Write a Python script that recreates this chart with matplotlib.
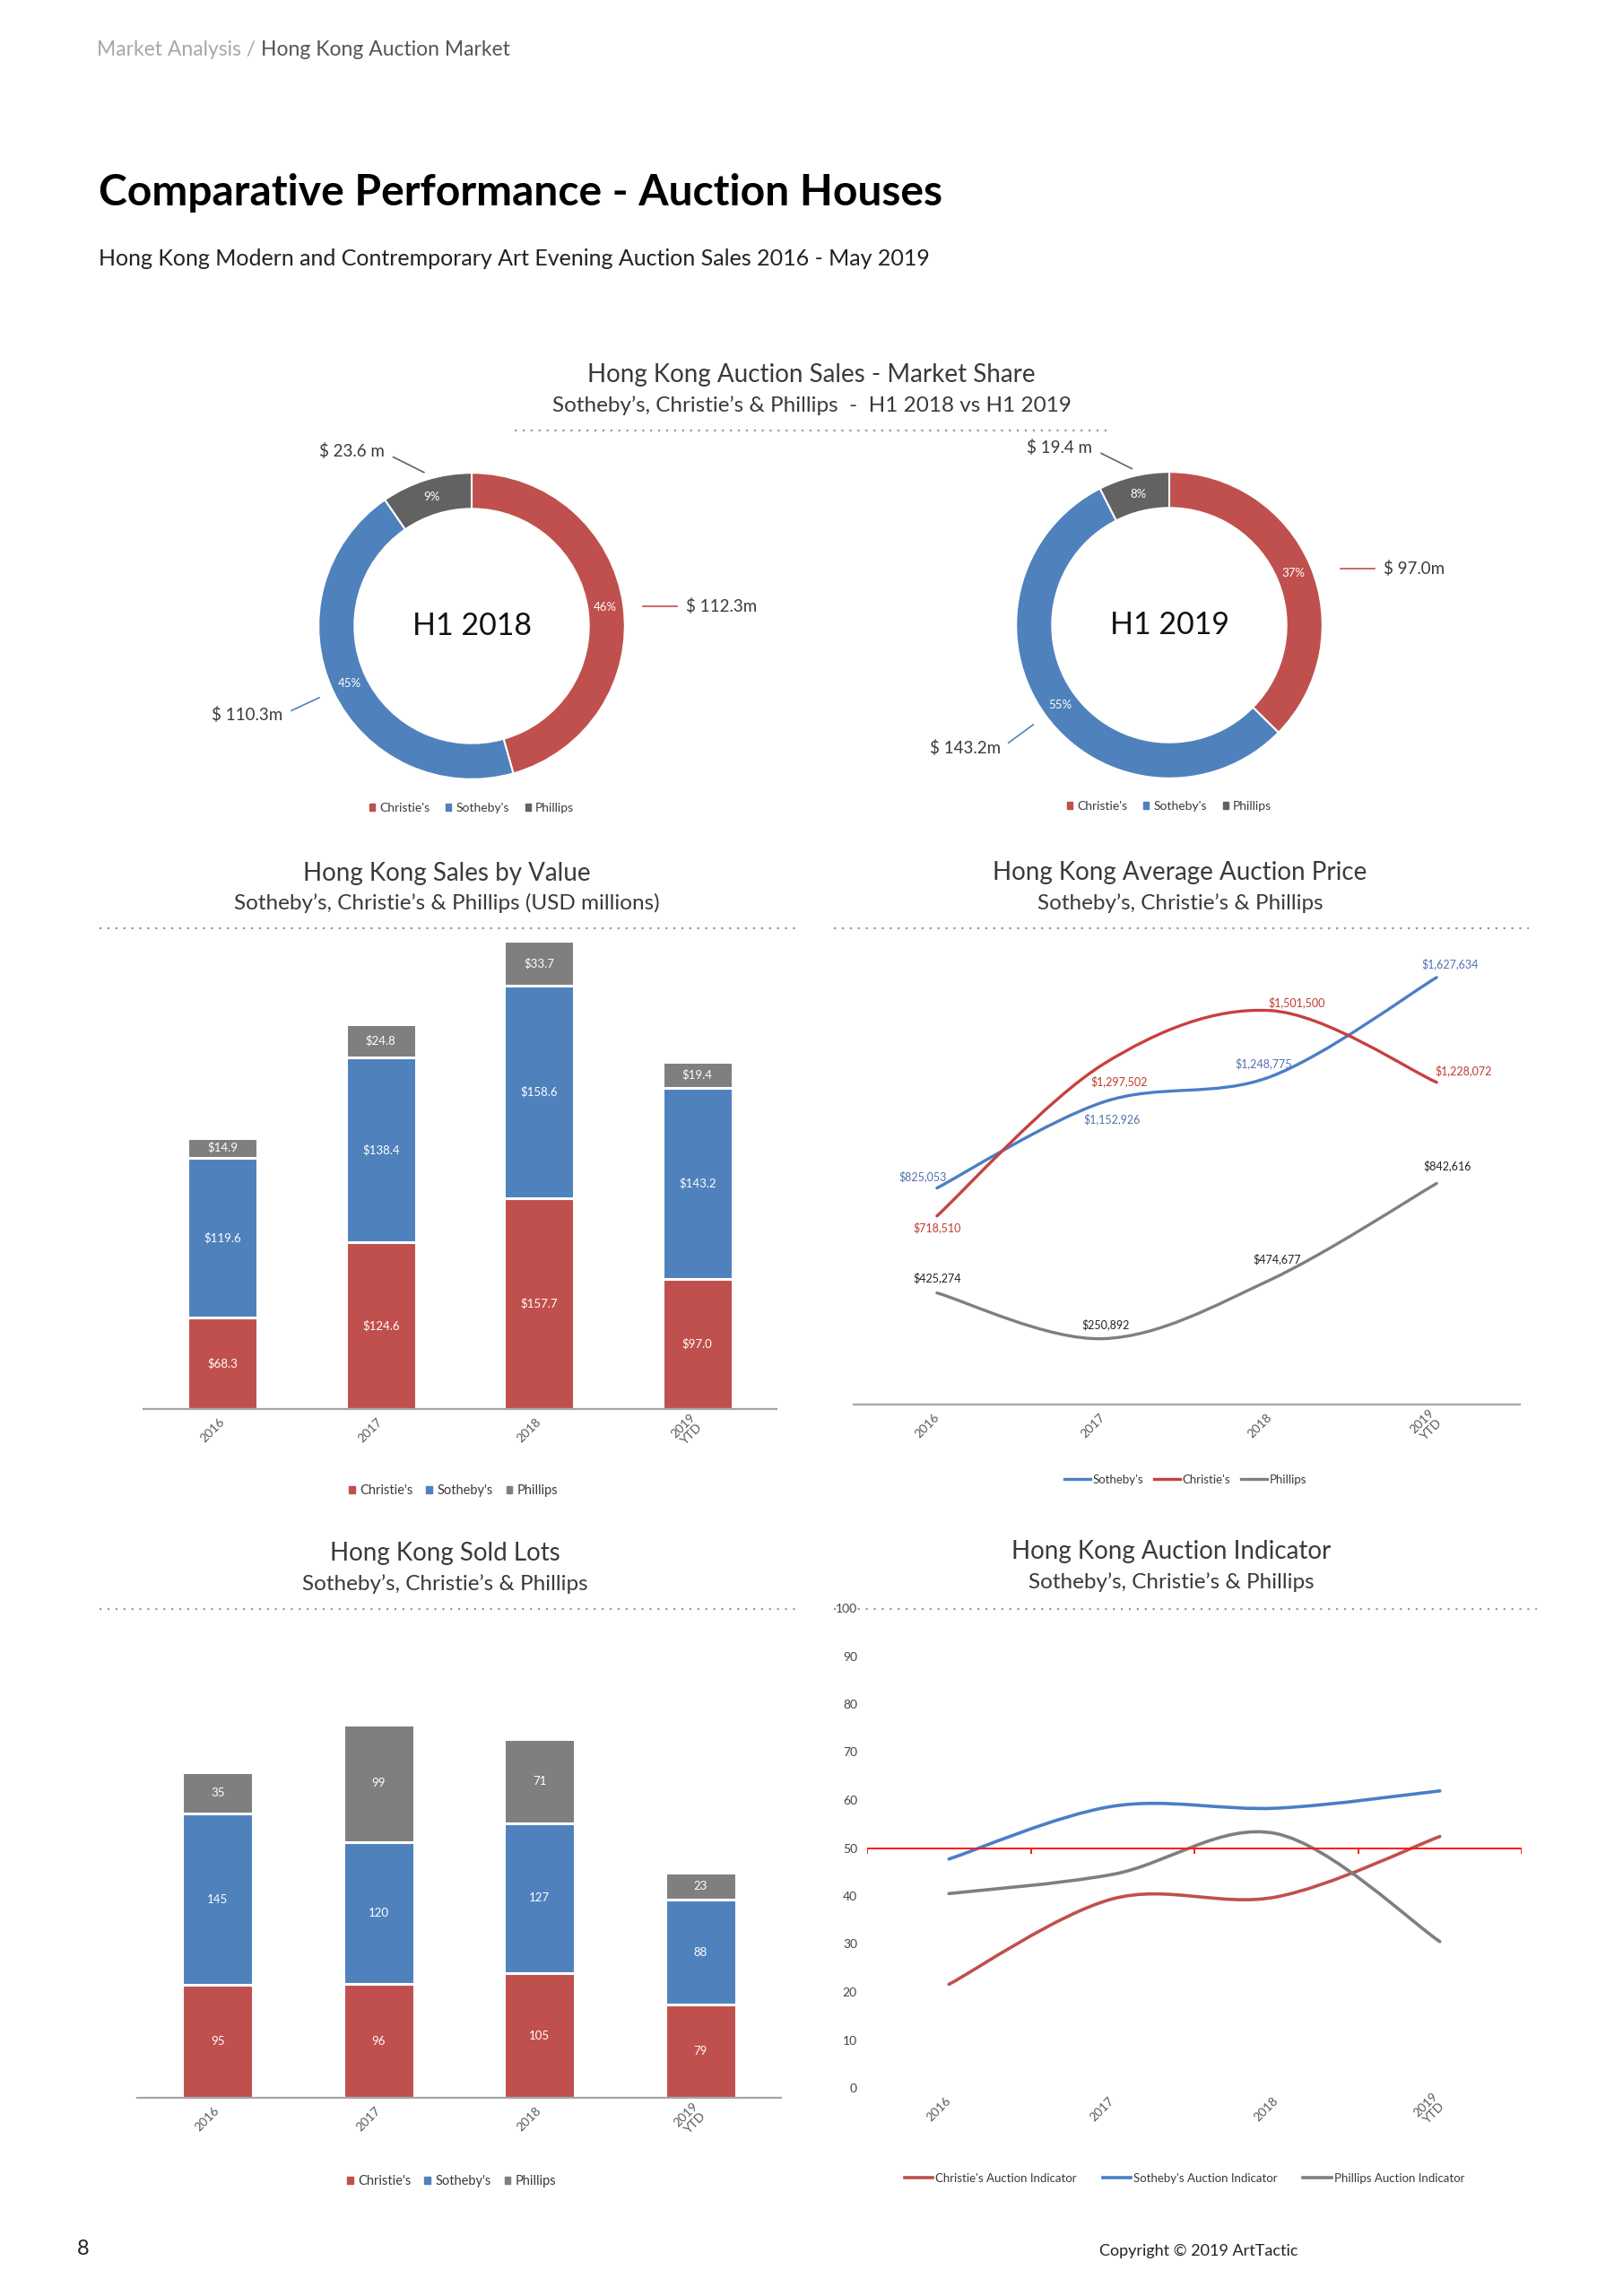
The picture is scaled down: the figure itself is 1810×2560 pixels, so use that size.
import matplotlib
matplotlib.use("Agg")
import numpy as np
import matplotlib.pyplot as plt
from matplotlib.lines import Line2D
from matplotlib.patches import Patch, PathPatch
from matplotlib.path import Path
from matplotlib.text import Annotation

plt.rcParams['font.family'] = ['Lato', 'DejaVu Sans']

# ---- data ----
houses = ["Christie's", "Sotheby's", "Phillips"]
years = ['2016', '2017', '2018', '2019\nYTD']

share_2018 = [112.3, 110.3, 23.6]
share_2019 = [97.0, 143.2, 19.4]
pct_2018 = ['46%', '45%', '9%']
pct_2019 = ['37%', '55%', '8%']
money_2018 = ['$ 112.3m', '$ 110.3m', '$ 23.6 m']
money_2019 = ['$ 97.0m', '$ 143.2m', '$ 19.4 m']

value_christies = [68.3, 124.6, 157.7, 97.0]
value_sothebys = [119.6, 138.4, 158.6, 143.2]
value_phillips = [14.9, 24.8, 33.7, 19.4]

lots_christies = [95, 96, 105, 79]
lots_sothebys = [145, 120, 127, 88]
lots_phillips = [35, 99, 71, 23]

avg_sothebys = [825053, 1152926, 1248775, 1627634]
avg_christies = [718510, 1297502, 1501500, 1228072]
avg_phillips = [425274, 250892, 474677, 842616]

ind_christies = [21.6, 39.4, 39.8, 52.4]
ind_sothebys = [47.7, 58.7, 58.3, 61.9]
ind_phillips = [40.5, 44.5, 53.0, 30.5]

RED = '#C0504D'
BLUE = '#4F81BD'
GREY = '#7F7F7F'
DARKGREY = '#626262'
TXT = '#3A3A3A'

W, H = 1810, 2560
fig = plt.figure(figsize=(W / 100, H / 100), dpi=100)


def box(x0, y0, x1, y1):
    return [x0 / W, 1 - y1 / H, (x1 - x0) / W, (y1 - y0) / H]


def ftext(x, y, s, **kw):
    return fig.text(x / W, 1 - y / H, s, **kw)


def dotted(x0, x1, y):
    fig.add_artist(Line2D([x0 / W, x1 / W], [1 - y / H] * 2, ls=(0, (1, 3)),
                          color='#9A9A9A', lw=1.6, transform=fig.transFigure))


def smooth(ax, xs, ys, color, lw=2.4):
    # excel style smoothed line, bezier segments through the points
    pts = list(zip(xs, ys))
    verts = [pts[0]]
    codes = [Path.MOVETO]
    for i in range(len(pts) - 1):
        p0 = pts[i - 1] if i > 0 else pts[i]
        p1, p2 = pts[i], pts[i + 1]
        p3 = pts[i + 2] if i + 2 < len(pts) else pts[i + 1]
        c1 = (p1[0] + (p2[0] - p0[0]) / 6, p1[1] + (p2[1] - p0[1]) / 6)
        c2 = (p2[0] - (p3[0] - p1[0]) / 6, p2[1] - (p3[1] - p1[1]) / 6)
        verts += [c1, c2, p2]
        codes += [Path.CURVE4] * 3
    ax.add_patch(PathPatch(Path(verts, codes), fill=False, edgecolor=color,
                           lw=lw, capstyle='round'))


def panel_titles(cx, y1, y2, t1, t2):
    ftext(cx, y1, t1, ha='center', va='center', fontsize=20, color=TXT)
    ftext(cx, y2, t2, ha='center', va='center', fontsize=17.5, color=TXT)


def xticks_rot(ax):
    ax.set_xticks(range(len(years)))
    ax.set_xticklabels(years, rotation=45, ha='right', va='center',
                       rotation_mode='anchor', fontsize=10, color='#595959',
                       multialignment='center')
    ax.tick_params(axis='x', length=0, pad=9)


# ---- page header ----
t1 = ftext(108, 55, 'Market Analysis / ', ha='left', va='center', fontsize=16.5,
           color='#A8A8A8')
fig.add_artist(Annotation('Hong Kong Auction Market', xy=(1, 0.5), xycoords=t1,
                          va='center', ha='left', fontsize=16.5, color='#555555'))
ftext(110, 215, 'Comparative Performance - Auction Houses', ha='left', va='center',
      fontsize=34.6, fontweight='bold', color='black')
ftext(110, 288, 'Hong Kong Modern and Contremporary Art Evening Auction Sales 2016 - May 2019',
      ha='left', va='center', fontsize=18, color='#222222')

# ---- donuts ----
panel_titles(905, 418, 452, 'Hong Kong Auction Sales - Market Share',
             'Sotheby\u2019s, Christie\u2019s & Phillips  -  H1 2018 vs H1 2019')
dotted(574, 1237, 480)


def donut(cx, cy, vals, pcts, money, centre, legend_y):
    ax = fig.add_axes(box(cx - 205, cy - 205, cx + 205, cy + 205))
    wedges, _ = ax.pie(vals, colors=[RED, BLUE, DARKGREY], startangle=90,
                       counterclock=False, radius=1.0,
                       wedgeprops=dict(width=0.235, edgecolor='white', linewidth=1.5))
    ax.set_xlim(-1.2, 1.2)
    ax.set_ylim(-1.2, 1.2)
    ax.set_aspect('equal')
    ax.axis('off')
    for w, p, m in zip(wedges, pcts, money):
        a = np.deg2rad((w.theta1 + w.theta2) / 2)
        ca, sa = np.cos(a), np.sin(a)
        col = w.get_facecolor()
        ax.text(0.88 * ca, 0.88 * sa, p, ha='center', va='center', fontsize=9.5,
                color='white')
        if abs(ca) < 0.4:
            # small slice at the top: bent leader going left
            x0, y0 = 1.05 * ca, 1.05 * sa
            x1, y1 = x0 - 0.2, y0 + 0.1
            ax.plot([x0, x1], [y0, y1], color=col, lw=1.2, clip_on=False)
            ax.text(x1 - 0.06, y1 + 0.04, m, ha='right', va='center', fontsize=13.5,
                    color=TXT, clip_on=False)
        elif ca > 0:
            # right side: flat leader
            y = 0.95 * sa
            ax.plot([1.12, 1.34], [y, y], color=col, lw=1.2, clip_on=False)
            ax.text(1.4, y, m, ha='left', va='center', fontsize=13.5, color=TXT,
                    clip_on=False)
        else:
            ax.plot([1.1 * ca, 1.3 * ca], [1.1 * sa, 1.3 * sa], color=col, lw=1.2,
                    clip_on=False)
            ax.text(1.36 * ca, 1.36 * sa, m, ha='right', va='center',
                    fontsize=13.5, color=TXT, clip_on=False)
    ax.text(0, 0, centre, ha='center', va='center', fontsize=24.5, color='#111111')
    handles = [Patch(color=c) for c in [RED, BLUE, DARKGREY]]
    fig.legend(handles, houses, loc='center', bbox_to_anchor=(cx / W, 1 - legend_y / H),
               ncol=3, frameon=False, fontsize=10, handlelength=0.45, handleheight=0.45,
               handletextpad=0.35, columnspacing=1.3, labelcolor=TXT)


donut(526, 698, share_2018, pct_2018, money_2018, 'H1 2018', 901)
donut(1304, 697, share_2019, pct_2019, money_2019, 'H1 2019', 899)

# ---- sales by value ----
panel_titles(498, 974, 1007, 'Hong Kong Sales by Value',
             'Sotheby\u2019s, Christie\u2019s & Phillips (USD millions)')
dotted(111, 889, 1035)


def stacked(ax, series, fmt, top):
    x = list(range(len(years)))
    bottom = [0] * len(years)
    for vals, col in zip(series, [RED, BLUE, GREY]):
        ax.bar(x, vals, 0.44, bottom=bottom, color=col, edgecolor='white', linewidth=2.2)
        for xi, b, v in zip(x, bottom, vals):
            ax.text(xi, b + v / 2, fmt(v), ha='center', va='center', fontsize=9.5,
                    color='white')
        bottom = [b + v for b, v in zip(bottom, vals)]
    ax.set_xlim(-0.5, 3.5)
    ax.set_ylim(0, top)
    for s in ['top', 'right', 'left']:
        ax.spines[s].set_visible(False)
    ax.spines['bottom'].set_color('#A6A6A6')
    ax.spines['bottom'].set_linewidth(1.6)
    ax.set_yticks([])
    xticks_rot(ax)


ax1 = fig.add_axes(box(160, 1040, 866, 1571))
stacked(ax1, [value_christies, value_sothebys, value_phillips], lambda v: f'${v:.1f}', 356)
fig.legend([Patch(color=c) for c in [RED, BLUE, GREY]], houses, loc='center',
           bbox_to_anchor=(506 / W, 1 - 1662 / H), ncol=3, frameon=False, fontsize=10.5,
           handlelength=0.45, handleheight=0.45, handletextpad=0.4, columnspacing=1.0,
           labelcolor=TXT)

# ---- average price ----
panel_titles(1316, 973, 1007, 'Hong Kong Average Auction Price',
             'Sotheby\u2019s, Christie\u2019s & Phillips')
dotted(930, 1705, 1035)

ax2 = fig.add_axes(box(952, 1040, 1695, 1566))
xs = list(range(len(years)))
avg_offsets = {
    'sothebys': [(-16, 13), (9, -19), (-7, 15), (15, 15)],
    'christies': [(0, -13), (17, -19), (30, 9), (30, 13)],
    'phillips': [(0, 17), (2, 16), (8, 23), (12, 20)],
}
for vals, col, tcol, key in [(avg_sothebys, '#4A7EC6', '#5470AE', 'sothebys'),
                             (avg_christies, '#C8403F', '#C0392B', 'christies'),
                             (avg_phillips, '#7F7F7F', '#222222', 'phillips')]:
    smooth(ax2, xs, vals, col)
    for xi, v, (dx, dy) in zip(xs, vals, avg_offsets[key]):
        ax2.annotate(f'${v:,}', (xi, v), xytext=(dx * 0.72, dy * 0.72),
                     textcoords='offset points', ha='center', va='center',
                     fontsize=9, color=tcol)
ax2.set_xlim(-0.5, 3.5)
ax2.set_ylim(0, 1.798e6)
for s in ['top', 'right', 'left']:
    ax2.spines[s].set_visible(False)
ax2.spines['bottom'].set_color('#A6A6A6')
ax2.spines['bottom'].set_linewidth(1.6)
ax2.set_yticks([])
xticks_rot(ax2)
fig.legend([Line2D([], [], color=c, lw=2.4) for c in ['#4A7EC6', '#C8403F', '#7F7F7F']],
           ["Sotheby's", "Christie's", 'Phillips'], loc='center',
           bbox_to_anchor=(1322 / W, 1 - 1650 / H), ncol=3, frameon=False, fontsize=9.5,
           handlelength=2.2, handletextpad=0.2, columnspacing=0.9, labelcolor=TXT)

# ---- sold lots ----
panel_titles(496, 1732, 1766, 'Hong Kong Sold Lots', 'Sotheby\u2019s, Christie\u2019s & Phillips')
dotted(111, 889, 1794)

ax3 = fig.add_axes(box(153, 1800, 871, 2339))
stacked(ax3, [lots_christies, lots_sothebys, lots_phillips], lambda v: f'{v}', 408)
fig.legend([Patch(color=c) for c in [RED, BLUE, GREY]], houses, loc='center',
           bbox_to_anchor=(504 / W, 1 - 2432 / H), ncol=3, frameon=False, fontsize=10.5,
           handlelength=0.45, handleheight=0.45, handletextpad=0.4, columnspacing=1.0,
           labelcolor=TXT)

# ---- auction indicator ----
panel_titles(1306, 1730, 1764, 'Hong Kong Auction Indicator',
             'Sotheby\u2019s, Christie\u2019s & Phillips')
dotted(930, 1714, 1794)

ax4 = fig.add_axes(box(967, 1793, 1697, 2328))
for vals, col in [(ind_christies, '#C0504D'), (ind_sothebys, '#4A7EC6'),
                  (ind_phillips, '#7F7F7F')]:
    smooth(ax4, xs, vals, col, lw=2.6)
ax4.axhline(50, color='#FF1A1A', lw=1.4)
ax4.vlines([-0.5, 0.5, 1.5, 2.5, 3.5], 48.8, 50, color='#FF1A1A', lw=1.4)
ax4.set_xlim(-0.5, 3.5)
ax4.set_ylim(0, 100)
ax4.set_yticks(range(0, 101, 10))
ax4.tick_params(axis='y', length=0, pad=8, labelsize=10, labelcolor='#444444')
for lab in ax4.get_yticklabels():
    lab.set_bbox(dict(facecolor='white', edgecolor='none', pad=1))
for s in ax4.spines.values():
    s.set_visible(False)
xticks_rot(ax4)
fig.legend([Line2D([], [], color=c, lw=2.6) for c in ['#C0504D', '#4A7EC6', '#7F7F7F']],
           ["Christie's Auction Indicator", "Sotheby's Auction Indicator",
            'Phillips Auction Indicator'], loc='center',
           bbox_to_anchor=(1321 / W, 1 - 2429 / H), ncol=3, frameon=False, fontsize=9.5,
           handlelength=2.4, handletextpad=0.2, columnspacing=2.2, labelcolor=TXT)

# ---- footer ----
ftext(93, 2507, '8', ha='center', va='center', fontsize=17, color='#222222')
ftext(1337, 2510, 'Copyright \u00a9 2019 ArtTactic', ha='center', va='center',
      fontsize=13, color='#222222')

fig.savefig('out.png', dpi=100, facecolor='white')
